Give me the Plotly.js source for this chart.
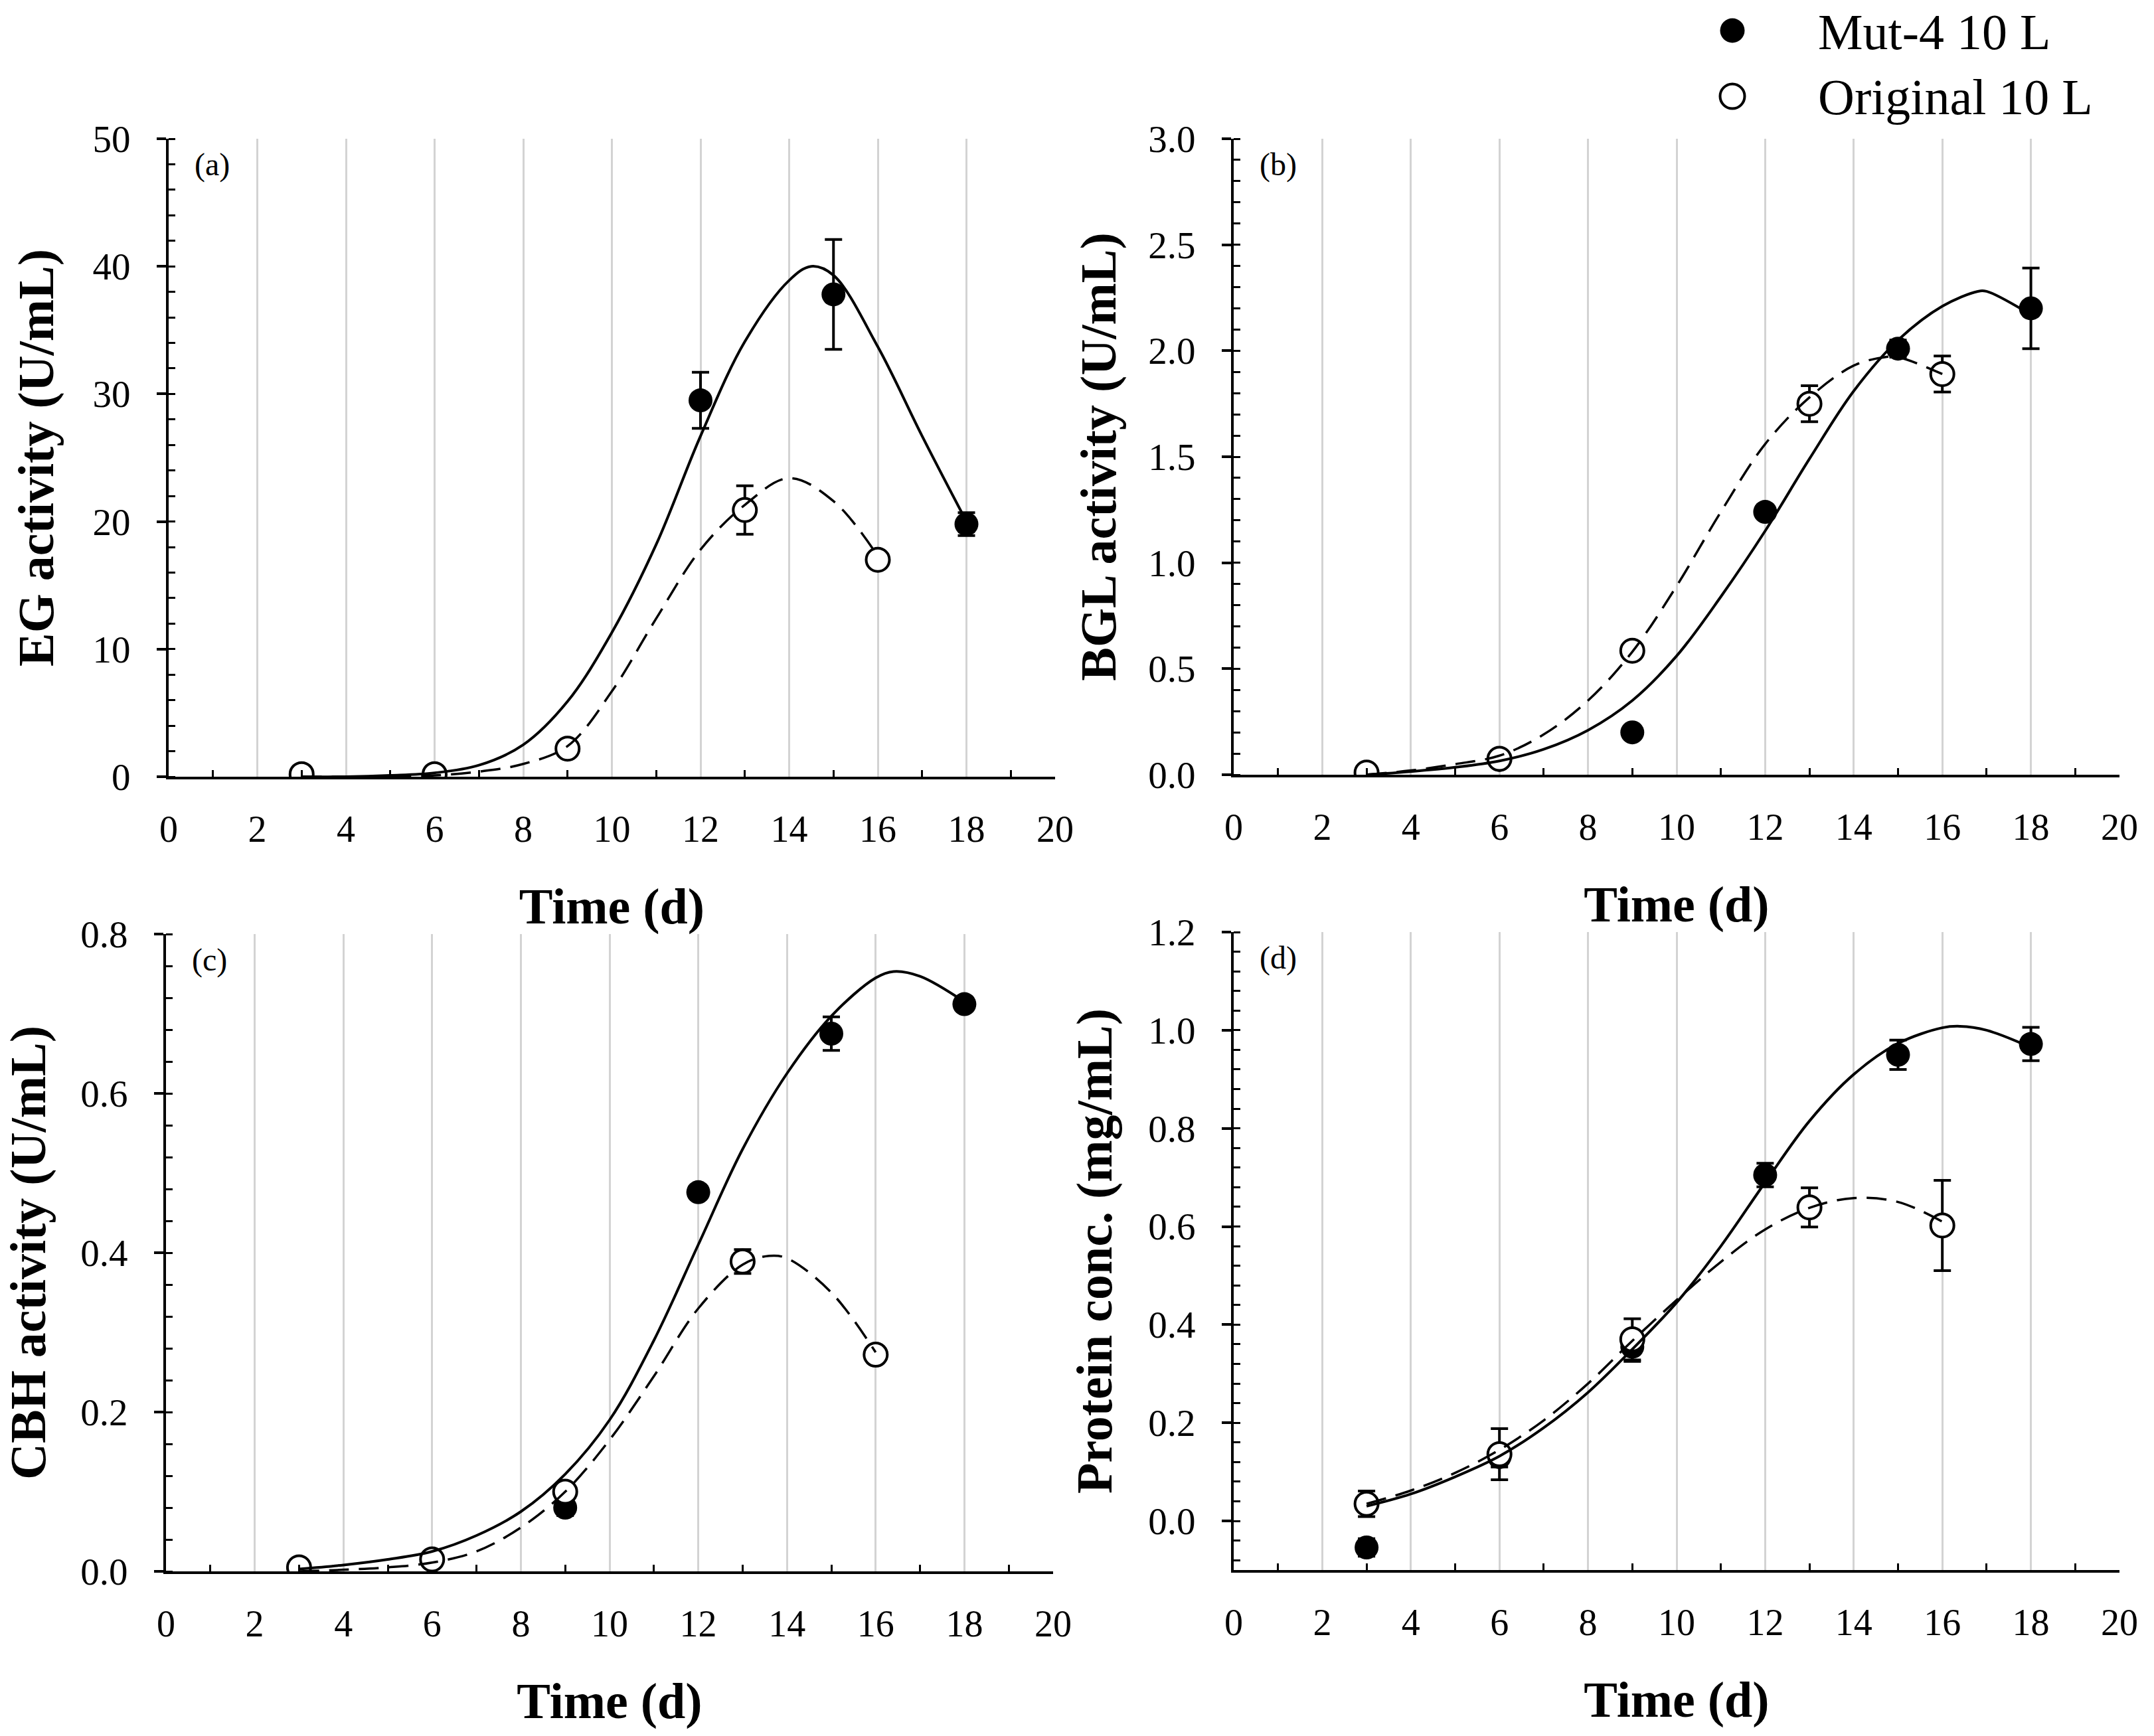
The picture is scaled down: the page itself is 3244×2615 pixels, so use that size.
<!DOCTYPE html>
<html>
<head>
<meta charset="utf-8">
<script src="https://cdn.plot.ly/plotly-3.0.1.min.js"></script>
<style>
  html, body { margin: 0; padding: 0; background: #ffffff; }
  #chart { width: 3244px; height: 2615px; }
</style>
</head>
<body>
<div id="chart"></div>
<script>
// ---------------- data ----------------
const seriesNames = ['Mut-4 10 L', 'Original 10 L'];
const panelLabels = ['(a)', '(b)', '(c)', '(d)'];
const yTitles = ['EG activity (U/mL)', 'BGL activity (U/mL)', 'CBH activity (U/mL)', 'Protein conc. (mg/mL)'];
const xTitle = 'Time (d)';

const daysMut = [3, 6, 9, 12, 15, 18];
const daysOrig = [3, 6, 9, 13, 16];

// (a) EG activity
const egMut = [0.2, 0.2, 2.2, 29.5, 37.8, 19.8];
const egMutErr = [0, 0, 0, 2.2, 4.3, 0.9];
const egOrig = [0.2, 0.2, 2.2, 20.9, 17.0];
const egOrigErr = [0, 0, 0, 1.9, 0];
const egFitMutX = [3, 4, 5, 6, 7, 8, 9, 10, 11, 12, 13, 14, 14.5, 15, 16, 17, 18];
const egFitMutY = [0, 0, 0.1, 0.3, 0.9, 2.5, 5.9, 11.3, 18.2, 26.7, 34.1, 38.9, 40.0, 39.3, 33.7, 26.7, 20.0];
const egFitOrigX = [3, 4, 5, 6, 7, 8, 9, 10, 11, 12, 13, 14, 15, 16];
const egFitOrigY = [0, 0, 0.02, 0.1, 0.4, 1.0, 2.4, 6.7, 12.4, 17.8, 21.3, 23.4, 21.6, 17.3];

// (b) BGL activity
const bglMut = [0.01, 0.07, 0.20, 1.24, 2.01, 2.20];
const bglMutErr = [0, 0, 0.02, 0.03, 0.04, 0.19];
const bglOrig = [0.01, 0.075, 0.585, 1.75, 1.89];
const bglOrigErr = [0.01, 0.01, 0.02, 0.085, 0.085];
const bglFitMutX = [3, 4, 5, 6, 7, 8, 9, 10, 11, 12, 13, 14, 15, 16, 16.8, 17, 18];
const bglFitMutY = [0, 0.015, 0.035, 0.065, 0.12, 0.21, 0.35, 0.56, 0.84, 1.15, 1.49, 1.81, 2.05, 2.21, 2.28, 2.28, 2.17];
const bglFitOrigX = [3, 4, 5, 6, 7, 8, 9, 10, 11, 12, 13, 14, 14.7, 15, 16];
const bglFitOrigY = [0, 0.02, 0.05, 0.09, 0.19, 0.35, 0.58, 0.89, 1.24, 1.56, 1.78, 1.93, 1.97, 1.97, 1.89];

// (c) CBH activity
const cbhMut = [0.004, 0.015, 0.08, 0.476, 0.675, 0.712];
const cbhMutErr = [0, 0, 0.01, 0.005, 0.021, 0.008];
const cbhOrig = [0.005, 0.015, 0.10, 0.389, 0.272];
const cbhOrigErr = [0, 0, 0, 0.015, 0.005];
const cbhFitMutX = [3, 4, 5, 6, 7, 8, 9, 10, 11, 12, 13, 14, 15, 16, 16.4, 17, 18];
const cbhFitMutY = [0.003, 0.008, 0.015, 0.025, 0.045, 0.075, 0.122, 0.19, 0.29, 0.41, 0.53, 0.625, 0.697, 0.745, 0.753, 0.747, 0.715];
const cbhFitOrigX = [3, 4, 5, 6, 7, 8, 9, 10, 11, 12, 13, 13.6, 14, 15, 16];
const cbhFitOrigY = [0, 0.002, 0.005, 0.011, 0.025, 0.055, 0.10, 0.165, 0.245, 0.33, 0.385, 0.396, 0.393, 0.35, 0.275];

// (d) Protein concentration
const protMut = [-0.054, 0.13, 0.355, 0.705, 0.95, 0.972];
const protMutErr = [0.018, 0.02, 0.03, 0.024, 0.03, 0.034];
const protOrig = [0.035, 0.136, 0.37, 0.639, 0.602];
const protOrigErr = [0.026, 0.052, 0.042, 0.04, 0.092];
const protFitMutX = [3, 4, 5, 6, 7, 8, 9, 10, 11, 12, 13, 14, 15, 16, 16.4, 17, 18];
const protFitMutY = [0.03, 0.055, 0.09, 0.132, 0.19, 0.262, 0.35, 0.445, 0.56, 0.69, 0.815, 0.91, 0.973, 1.005, 1.008, 1.0, 0.965];
const protFitOrigX = [3, 4, 5, 6, 7, 8, 9, 10, 11, 12, 13, 14, 15, 16];
const protFitOrigY = [0.035, 0.062, 0.098, 0.145, 0.205, 0.28, 0.367, 0.45, 0.528, 0.594, 0.638, 0.658, 0.65, 0.61];

// axis ranges / ticks
const yRanges = [[0, 50], [0, 3], [0, 0.8], [-0.1, 1.2]];
const yDticks = [10, 0.5, 0.2, 0.2];
const yMinorDticks = [2, 0.1, 0.04, 0.04];
const yFormats = ['d', '.1f', '.1f', '.1f'];

// ---------------- build ----------------
const FONT = 'Liberation Serif';
const panels = [
  {mut: egMut, mutErr: egMutErr, orig: egOrig, origErr: egOrigErr, fmx: egFitMutX, fmy: egFitMutY, fox: egFitOrigX, foy: egFitOrigY},
  {mut: bglMut, mutErr: bglMutErr, orig: bglOrig, origErr: bglOrigErr, fmx: bglFitMutX, fmy: bglFitMutY, fox: bglFitOrigX, foy: bglFitOrigY},
  {mut: cbhMut, mutErr: cbhMutErr, orig: cbhOrig, origErr: cbhOrigErr, fmx: cbhFitMutX, fmy: cbhFitMutY, fox: cbhFitOrigX, foy: cbhFitOrigY},
  {mut: protMut, mutErr: protMutErr, orig: protOrig, origErr: protOrigErr, fmx: protFitMutX, fmy: protFitMutY, fox: protFitOrigX, foy: protFitOrigY}
];

const W = 3244, H = 2615;
// plot-area pixel boxes [left, right, top, bottom]
const boxes = [
  [254, 1589, 209, 1170],
  [1858, 3192, 209, 1167],
  [250, 1586, 1407, 2367],
  [1858, 3192, 1404, 2365]
];
const yTitleStandoff = [35, 25, 29, 31];
// legend key placement (pixels from top-left of the figure)
const legendKeyX = 2609, legendTextX = 2738;
const legendKeyRowY = [46, 145], legendTextRowY = [55, 153];

const mutMarker = {symbol: 'circle', size: 36, color: '#000000', line: {width: 0}};
const origMarker = {symbol: 'circle', size: 35, color: '#ffffff', line: {width: 4, color: '#000000'}};

const traces = [];
const layout = {
  width: W, height: H,
  margin: {l: 0, r: 0, t: 0, b: 0},
  paper_bgcolor: '#ffffff',
  plot_bgcolor: 'rgba(0,0,0,0)',
  font: {family: FONT, color: '#000000', size: 56},
  showlegend: false,
  annotations: []
};

panels.forEach((p, i) => {
  const n = i + 1;
  const xa = 'x' + (n === 1 ? '' : n);
  const ya = 'y' + (n === 1 ? '' : n);
  const b = boxes[i];

  traces.push({
    x: daysMut, y: p.mut, xaxis: xa, yaxis: ya, type: 'scatter', mode: 'markers',
    name: seriesNames[0], marker: mutMarker,
    error_y: {type: 'data', array: p.mutErr, visible: true, color: '#000000', thickness: 4, width: 13}
  });
  traces.push({
    x: daysOrig, y: p.orig, xaxis: xa, yaxis: ya, type: 'scatter', mode: 'markers',
    name: seriesNames[1], marker: origMarker,
    error_y: {type: 'data', array: p.origErr, visible: true, color: '#000000', thickness: 4, width: 13}
  });
  traces.push({
    x: p.fmx, y: p.fmy, xaxis: xa, yaxis: ya, type: 'scatter', mode: 'lines',
    name: seriesNames[0] + ' fit', hoverinfo: 'skip',
    line: {color: '#000000', width: 4, shape: 'spline', smoothing: 1}
  });
  traces.push({
    x: p.fox, y: p.foy, xaxis: xa, yaxis: ya, type: 'scatter', mode: 'lines',
    name: seriesNames[1] + ' fit', hoverinfo: 'skip',
    line: {color: '#000000', width: 3.5, shape: 'spline', smoothing: 1, dash: '30px,15px'}
  });

  const xKey = 'xaxis' + (n === 1 ? '' : n);
  const yKey = 'yaxis' + (n === 1 ? '' : n);
  layout[xKey] = {
    domain: [b[0] / W, b[1] / W], anchor: ya,
    range: [0, 20], tick0: 0, dtick: 2, autorange: false,
    showgrid: true, gridcolor: '#d3d3d3', gridwidth: 3,
    zeroline: false, showline: true, linecolor: '#000000', linewidth: 4,
    ticks: '', ticklabelstandoff: 27,
    tickfont: {family: FONT, size: 56, color: '#000000'},
    minor: {dtick: 1, tick0: 0, ticks: 'inside', ticklen: 10, tickwidth: 3, tickcolor: '#000000', showgrid: false},
    title: {text: '<b>' + xTitle + '</b>', font: {family: FONT, size: 76, color: '#000000'}, standoff: 60}
  };
  layout[yKey] = {
    domain: [1 - b[3] / H, 1 - b[2] / H], anchor: xa,
    range: yRanges[i], autorange: false, tick0: 0, dtick: yDticks[i], tickformat: yFormats[i],
    showgrid: false, zeroline: false, showline: true, linecolor: '#000000', linewidth: 4,
    ticks: 'outside', ticklen: 14, tickwidth: 4, tickcolor: '#000000', ticklabelstandoff: 28,
    tickfont: {family: FONT, size: 57, color: '#000000'},
    minor: {dtick: yMinorDticks[i], tick0: 0, ticks: 'inside', ticklen: 10, tickwidth: 3, tickcolor: '#000000', showgrid: false},
    title: {text: '<b>' + yTitles[i] + '</b>', font: {family: FONT, size: 76, color: '#000000'}, standoff: yTitleStandoff[i]}
  };
  layout.annotations.push({
    text: panelLabels[i], xref: xa + ' domain', yref: ya + ' domain',
    x: 0.028, y: 0.99, xanchor: 'left', yanchor: 'top', showarrow: false,
    font: {family: FONT, size: 48, color: '#000000'}
  });
});

// Legend: drawn on a transparent full-figure axis pair measured in pixels
layout.xaxis5 = {domain: [0, 1], range: [0, W], visible: false, fixedrange: true, anchor: 'y5'};
layout.yaxis5 = {domain: [0, 1], range: [H, 0], visible: false, fixedrange: true, anchor: 'x5'};
[mutMarker, origMarker].forEach((mk, k) => {
  traces.push({
    x: [legendKeyX], y: [legendKeyRowY[k]], xaxis: 'x5', yaxis: 'y5', type: 'scatter', mode: 'markers',
    name: seriesNames[k] + ' legend key', hoverinfo: 'skip', cliponaxis: false,
    marker: Object.assign({}, mk, {size: 37})
  });
  traces.push({
    x: [legendTextX], y: [legendTextRowY[k]], xaxis: 'x5', yaxis: 'y5', type: 'scatter', mode: 'text',
    name: seriesNames[k] + ' legend text', hoverinfo: 'skip', cliponaxis: false,
    text: [seriesNames[k]], textposition: 'middle right',
    textfont: {family: 'Liberation Serif', size: 76, color: '#000000'}
  });
});

Plotly.newPlot('chart', traces, layout, {staticPlot: true, displayModeBar: false});
</script>
</body>
</html>
